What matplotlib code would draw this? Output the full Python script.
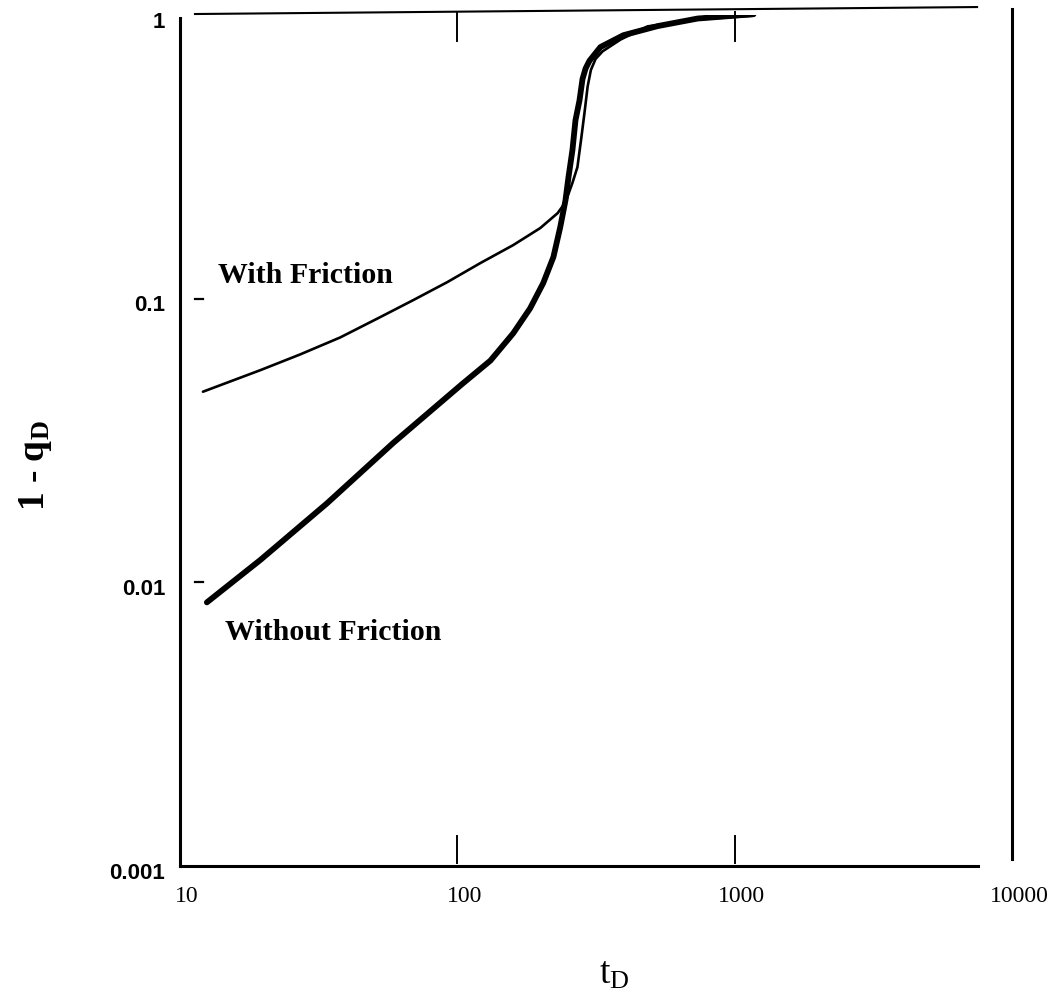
import numpy as np
import matplotlib.pyplot as plt
from matplotlib.transforms import offset_copy

plt.rcParams['mathtext.default'] = 'regular'

# dimensionless time t_D and 1 - q_D along each curve
t_fric = [12.1, 19.5, 27, 37.8, 52.7, 69.4, 92.0, 121, 159, 199, 230, 245.5,
          260, 271, 280, 288, 295, 303, 315, 334, 388, 485, 735, 1170]
q_fric = [0.047, 0.056, 0.0635, 0.073, 0.0861, 0.0989, 0.1144, 0.1335, 0.1545,
          0.1774, 0.2003, 0.219, 0.256, 0.291, 0.37, 0.46, 0.56, 0.64, 0.70,
          0.745, 0.82, 0.912, 0.965, 0.995]

t_nofric = [12.5, 19.5, 33.9, 58.7, 104, 131.6, 159, 183, 204, 222, 235,
            245.5, 251.6, 260, 266.7, 275.7, 282.7, 290, 299.6, 328, 397,
            527, 735, 1170]
q_nofric = [0.0085, 0.0120, 0.019, 0.031, 0.050, 0.0605, 0.0755, 0.0925,
            0.1135, 0.1402, 0.1788, 0.2226, 0.268, 0.334, 0.426, 0.50, 0.595,
            0.648, 0.69, 0.771, 0.849, 0.914, 0.972, 1.007]

x_ticks = [10, 100, 1000, 10000]
x_tick_labels = ['10', '100', '1000', '10000']
y_ticks = [0.001, 0.01, 0.1, 1]
y_tick_labels = ['0.001', '0.01', '0.1', '1']

serif = 'Liberation Serif'
sans = 'Liberation Sans'

fig = plt.figure(figsize=(10.52, 9.96), dpi=100)
ax = fig.add_axes([0.1711, 0.1305, 0.7909, 0.8544])
ax.set_xscale('log')
ax.set_yscale('log')
ax.set_xlim(10, 10000)
ax.set_ylim(0.001, 1)
ax.minorticks_off()
ax.set_xticks([])
ax.set_yticks([])

ax.plot(t_fric, q_fric, color='black', lw=1.9,
        solid_capstyle='round', solid_joinstyle='round')
ax.plot(t_nofric, q_nofric, color='black', lw=4.2,
        solid_capstyle='round', solid_joinstyle='round')

# frame: open, uneven box
ax.spines['top'].set_visible(False)
ax.spines['left'].set_linewidth(2.2)
ax.spines['left'].set_bounds(0.001, 0.975)
ax.spines['bottom'].set_linewidth(2.2)
ax.spines['bottom'].set_bounds(10, 7540)
ax.spines['right'].set_linewidth(2.2)
ax.spines['right'].set_bounds(0.00106, 1.049)
ax.plot([0.018, 0.958], [1.0012, 1.0094], transform=ax.transAxes,
        color='black', lw=1.5, clip_on=False)

# detached tick marks
ytr = ax.get_yaxis_transform()
xtr = ax.get_xaxis_transform()
for v in y_ticks[1:3]:
    ax.plot([0.018, 0.028], [v, v], transform=ytr, color='black', lw=1.6)
for v in x_ticks[1:3]:
    ax.plot([v, v], [0.004, 0.035], transform=xtr, color='black', lw=1.4)
    ax.plot([v, v], [0.97, 1.004], transform=xtr, color='black', lw=1.4,
            clip_on=False)

# tick labels
ylab_tr = offset_copy(ytr, fig=fig, x=0, y=-7, units='dots')
for v, s in zip(y_ticks, y_tick_labels):
    ax.text(-0.018, v, s, transform=ylab_tr, ha='right', va='center',
            fontsize=16, fontweight='bold', family=sans)
xlab_tr = offset_copy(xtr, fig=fig, x=7, y=0, units='dots')
for v, s in zip(x_ticks, x_tick_labels):
    ax.text(v, -0.036, s, transform=xlab_tr, ha='center', va='center',
            fontsize=17, family=serif)

ax.text(0.0457, 0.6945, 'With Friction', transform=ax.transAxes,
        ha='left', va='center', fontsize=21.5, fontweight='bold', family=serif)
ax.text(0.054, 0.275, 'Without Friction', transform=ax.transAxes,
        ha='left', va='center', fontsize=21.5, fontweight='bold', family=serif)

fig.text(614 / 1052, 1 - 974 / 996, 't$_D$', ha='center', va='center',
         fontsize=27, family=serif)
fig.text(35 / 1052, 1 - 466 / 996, '1 - q$_D$', ha='center', va='center',
         rotation=90, fontsize=27, fontweight='bold', family=serif)

fig.savefig('out.png', dpi=100)
